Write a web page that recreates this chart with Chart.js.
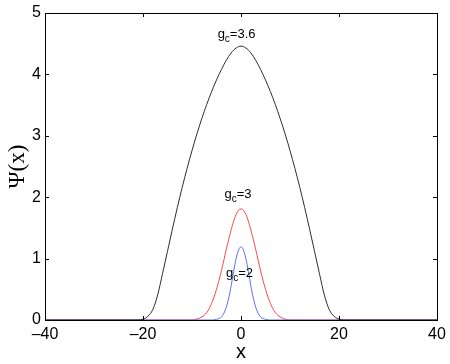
<!DOCTYPE html>
<html><head><meta charset="utf-8">
<script src="https://cdn.jsdelivr.net/npm/chart.js@4.4.1/dist/chart.umd.min.js"></script>
<style>html,body{margin:0;padding:0;background:#fff}#wrap{width:450px;height:364px}</style>
</head><body><div id="wrap"><canvas id="c" width="450" height="364"></canvas></div>
<script>
// Black curve (g_c=3.6)
const xBlack = [-40,-30,-22,-21,-20,-19,-18,-17,-16,-15,-14,-13,-12,-11,-10,-9,-8,-7,-6,-5,-4,-3,-2,-1,0,1,2,3,4,5,6,7,8,9,10,11,12,13,14,15,16,17,18,19,20,21,22,30,40];
const yBlack = [0,0,0,0,0.015,0.06,0.17,0.41,0.76,1.12,1.48,1.83,2.16,2.47,2.76,3.03,3.28,3.51,3.72,3.91,4.08,4.23,4.35,4.43,4.46,4.43,4.35,4.23,4.08,3.91,3.72,3.51,3.28,3.03,2.76,2.47,2.16,1.83,1.48,1.12,0.76,0.41,0.17,0.06,0.015,0,0,0,0];
// Red curve (g_c=3)
const xRed = [-40,-20,-11,-10,-9,-8,-7,-6,-5,-4,-3,-2,-1,0,1,2,3,4,5,6,7,8,9,10,11,20,40];
const yRed = [0,0,0,0,0.015,0.05,0.12,0.27,0.50,0.80,1.15,1.47,1.72,1.81,1.72,1.47,1.15,0.80,0.50,0.27,0.12,0.05,0.015,0,0,0,0];
// Blue curve (g_c=2)
const xBlue = [-40,-20,-7,-6,-5,-4,-3.5,-3,-2.5,-2,-1.5,-1,-0.5,0,0.5,1,1.5,2,2.5,3,3.5,4,5,6,7,20,40];
const yBlue = [0,0,0,0,0.01,0.05,0.11,0.21,0.36,0.56,0.79,1.00,1.14,1.19,1.14,1.00,0.79,0.56,0.36,0.21,0.11,0.05,0.01,0,0,0,0];
const xTicks = [-40,-20,0,20,40];
const yTicks = [0,1,2,3,4,5];
// curve labels: [main, subscript, rest]
const labelText = [["g","c","=3.6"],["g","c","=3"],["g","c","=2"]];
const labelX = [-0.9, -0.6, -0.3];
const labelY = [4.6, 1.99, 0.70];

const toPts = (xs, ys) => xs.map((x,i)=>({x:x,y:ys[i]}));
const FONT = "'Liberation Sans', Arial, sans-serif";

const frame = {
  id:'frame',
  afterDraw(chart){
    const ctx = chart.ctx, a = chart.chartArea, xs = chart.scales.x, ys = chart.scales.y;
    ctx.save();
    ctx.strokeStyle = '#000'; ctx.lineWidth = 1;
    ctx.strokeRect(Math.round(a.left)+0.5, Math.round(a.top)+0.5, Math.round(a.right-a.left), Math.round(a.bottom-a.top));
    ctx.beginPath();
    const L = 4;
    xTicks.forEach(v=>{ const p = Math.round(xs.getPixelForValue(v))+0.5;
      ctx.moveTo(p,a.bottom); ctx.lineTo(p,a.bottom-L); ctx.moveTo(p,a.top); ctx.lineTo(p,a.top+L); });
    yTicks.forEach(v=>{ const p = Math.round(ys.getPixelForValue(v))+0.5;
      ctx.moveTo(a.left,p); ctx.lineTo(a.left+L,p); ctx.moveTo(a.right,p); ctx.lineTo(a.right-L,p); });
    ctx.stroke();
    ctx.fillStyle = '#000'; ctx.textBaseline = 'alphabetic';
    labelText.forEach((t,i)=>{
      const px = xs.getPixelForValue(labelX[i]), py = ys.getPixelForValue(labelY[i]);
      ctx.font = '13px ' + FONT;
      const w0 = ctx.measureText(t[0]).width, w2 = ctx.measureText(t[2]).width;
      ctx.font = '10px ' + FONT;
      const w1 = ctx.measureText(t[1]).width;
      let x0 = px - (w0+w1+w2)/2;
      ctx.textAlign='left';
      ctx.font = '13px ' + FONT; ctx.fillText(t[0], x0, py);
      ctx.font = '10px ' + FONT; ctx.fillText(t[1], x0+w0, py+4);
      ctx.font = '13px ' + FONT; ctx.fillText(t[2], x0+w0+w1, py);
    });
    ctx.restore();
  }
};

new Chart(document.getElementById('c'), {
  type:'line',
  data:{ datasets:[
    {data:toPts(xBlack,yBlack), borderColor:'rgb(45,45,45)', borderWidth:1, pointRadius:0, cubicInterpolationMode:'monotone', fill:false},
    {data:toPts(xBlue,yBlue), borderColor:'rgb(90,110,255)', borderWidth:1, pointRadius:0, cubicInterpolationMode:'monotone', fill:false},
    {data:toPts(xRed,yRed), borderColor:'rgb(255,70,70)', borderWidth:1, pointRadius:0, cubicInterpolationMode:'monotone', fill:false}
  ]},
  options:{
    responsive:false, animation:false, devicePixelRatio:1,
    layout:{padding:{left:0,top:13,right:13,bottom:0}},
    plugins:{legend:{display:false}, tooltip:{enabled:false}},
    scales:{
      x:{type:'linear', min:-40, max:40,
        afterBuildTicks(s){ s.ticks = xTicks.map(v=>({value:v})); },
        afterFit(s){ s.height = 44; },
        border:{display:false},
        grid:{display:false},
        ticks:{color:'#000', font:{family:FONT,size:16}, padding:-3, maxRotation:0,
          callback:v=>String(v).replace('-','\u2013')},
        title:{display:true, text:'x', color:'#000', font:{family:FONT,size:20}, padding:{top:-6,bottom:0}}
      },
      y:{type:'linear', min:0, max:5,
        afterBuildTicks(s){ s.ticks = yTicks.map(v=>({value:v})); },
        afterFit(s){ s.width = 45; },
        border:{display:false},
        grid:{display:false},
        ticks:{color:'#000', font:{family:FONT,size:16}, padding:-4},
        title:{display:true, text:'\u03A8(x)', color:'#000', font:{family:"'Liberation Serif', serif",size:23}, padding:{top:4,bottom:0}}
      }
    }
  },
  plugins:[frame]
});
</script></body></html>
